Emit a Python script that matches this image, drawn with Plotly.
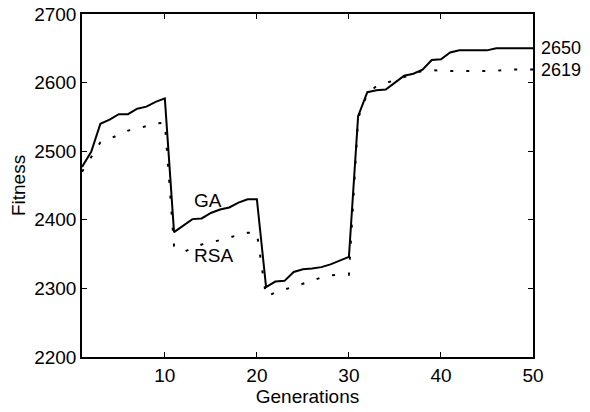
import plotly.graph_objects as go

generations = list(range(1, 51))
ga = [2477, 2499, 2540, 2546, 2554, 2554, 2562, 2565, 2572, 2577,
      2382, 2391, 2401, 2402, 2410, 2415, 2418, 2425, 2430, 2430,
      2302, 2310, 2311, 2324, 2328, 2329, 2331, 2335, 2341, 2346,
      2551, 2586, 2589, 2590, 2600, 2610, 2613, 2619, 2633, 2634,
      2644, 2647, 2647, 2647, 2647, 2650, 2650, 2650, 2650, 2650]
rsa = [2470, 2491, 2513, 2518, 2524, 2530, 2533, 2537, 2540, 2542,
       2362, 2353, 2358, 2364, 2367, 2370, 2374, 2378, 2381, 2381,
       2288, 2294, 2298, 2303, 2307, 2311, 2316, 2319, 2320, 2320,
       2548, 2584, 2595, 2599, 2603, 2608, 2613, 2617, 2618, 2617,
       2617, 2617, 2617, 2617, 2617, 2617, 2619, 2619, 2620, 2619]
y_ticks = [2200, 2300, 2400, 2500, 2600, 2700]
x_ticks = [10, 20, 30, 40, 50]
final_ga = "2650"
final_rsa = "2619"

font = dict(family="Liberation Sans, Arial, sans-serif", size=19, color="black")
end_font = dict(family="Liberation Sans, Arial, sans-serif", size=18, color="black")

fig = go.Figure()
fig.add_trace(go.Scatter(x=generations, y=rsa, mode="lines",
                         line=dict(color="black", width=2, dash="3px,13px"),
                         name="RSA", showlegend=False))
fig.add_trace(go.Scatter(x=generations, y=ga, mode="lines",
                         line=dict(color="black", width=2),
                         name="GA", showlegend=False))

fig.add_annotation(x=14.7, y=2428, text="GA", showarrow=False, font=font)
fig.add_annotation(x=15.3, y=2348, text="RSA", showarrow=False, font=font)
fig.add_annotation(x=50, y=2650, text=final_ga, showarrow=False, font=end_font,
                   xanchor="left", xshift=6)
fig.add_annotation(x=50, y=2619, text=final_rsa, showarrow=False, font=end_font,
                   xanchor="left", xshift=6)

axis_common = dict(showgrid=False, zeroline=False, showline=True, linecolor="black",
                   linewidth=1.5, mirror="ticks", ticks="inside", ticklen=5,
                   tickcolor="black", tickwidth=1, tickfont=font, automargin=False,
                   ticklabeloverflow="allow")

fig.update_layout(
    width=582, height=404,
    margin=dict(l=74, r=57, t=6, b=55),
    paper_bgcolor="white", plot_bgcolor="white",
    font=font,
    xaxis=dict(range=[1, 50], tickvals=x_ticks,
               title=dict(text="Generations", font=font, standoff=2), **axis_common),
    yaxis=dict(range=[2200, 2700], tickvals=y_ticks,
               title=dict(text="Fitness", font=font, standoff=10), **axis_common),
)

fig.write_html("out.html")
